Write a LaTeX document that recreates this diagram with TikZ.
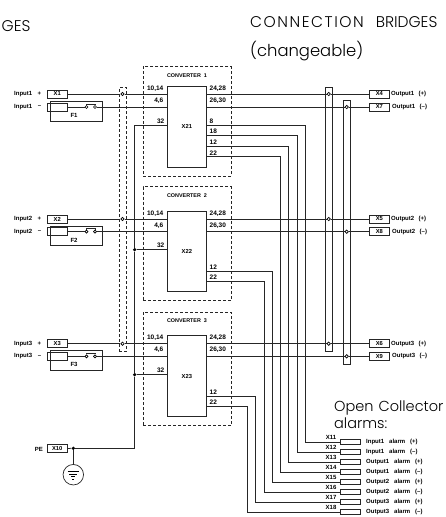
\documentclass[tikz,border=0pt]{standalone}
\usepackage{fontspec}
\setmainfont{Liberation Sans}
\newfontfamily\bigf{Poppins Light}
\newfontfamily\bigs[LetterSpace=10]{Poppins Light}
\begin{document}
\begin{tikzpicture}[x=1pt,y=-1pt,
  wire/.style={line width=0.75pt,draw=black!85},
  thinbox/.style={draw=black!85,line width=0.75pt,fill=none,inner sep=0pt},
  term/.style={thinbox,minimum width=20.5pt,minimum height=8pt,font=\fontsize{5.8}{6}\selectfont\bfseries},
  alarmbox/.style={thinbox,minimum width=19.5pt,minimum height=5pt},
  conv/.style={draw=black!85,line width=0.75pt,dashed,dash pattern=on 3pt off 2pt,inner sep=0pt},
  block/.style={thinbox,minimum width=39.7pt,font=\fontsize{5.8}{6}\selectfont\bfseries},
  tiny/.style={inner sep=0pt,font=\fontsize{6}{6}\selectfont\bfseries},
  pin/.style={inner sep=0pt,font=\fontsize{6.5}{6}\selectfont\bfseries},
  jopen/.style={circle,draw=black,line width=0.7pt,minimum size=3.4pt,inner sep=0pt},
  jfill/.style={circle,fill=black,minimum size=3.6pt,inner sep=0pt},
  big/.style={inner sep=0pt,anchor=base west,font=\fontsize{15.5}{17}\bigf},
  big2/.style={inner sep=0pt,anchor=base west,font=\fontsize{14.5}{17}\bigf}]
\useasboundingbox (0,0) rectangle (446,517);
% titles
\node[big] (t1) at (1.5,31.7) {GES};
\node[big] (t2) at (250,27.5) {{\bigs CONNECTION}\hspace{12pt}BRIDGES};
\node[big,font=\fontsize{16.4}{17}\bigf] (t3) at (250,56) {(changeable)};
\node[big2] (t4) at (334,411.7) {Open\hspace{5pt}Collector};
\node[big2] (t5) at (334,428) {alarms:};
% bridges
\node[thinbox,conv,minimum width=7.7pt,minimum height=263.3pt] (bl) at (122.9,219.3) {};
\node[thinbox,minimum width=7.4pt,minimum height=264pt] (br1) at (329,219.3) {};
\node[thinbox,minimum width=7.3pt,minimum height=264pt] (br2) at (346.7,232.3) {};
% converters
\foreach \c/\n/\top/\bot/\title/\btop/\bbot/\yp/\ym/\ya/\inp/\outp/\outm/\fuse in {
 1/X21/66.7/176/{CONVERTER\ \ 1}/86.3/167.3/94/107/125.3/X1/X4/X7/F1,
 2/X22/186.7/300.7/{CONVERTER\ \ 2}/211/291.7/219/231.7/249.7/X2/X5/X8/F2,
 3/X23/312/425.7/{CONVERTER\ \ 3}/335.7/416.7/343.7/356.3/374.7/X3/X6/X9/F3}{
  \pgfmathsetmacro\bh{\bbot-\btop}
  \pgfmathsetmacro\bm{(\bbot+\btop)/2}
  \pgfmathsetmacro\cm{(\top+\bot)/2}
  \pgfmathsetmacro\ch{\bot-\top}
  \node[conv,minimum width=88pt,minimum height=\ch pt] (conv\c) at (187,\cm) {};
  \node[tiny,font=\fontsize{5.4}{6}\selectfont\bfseries] (ctitle\c) at (187,\top+8.5) {\title};
  \node[block,minimum height=\bh pt] (\n) at (186.85,\bm) {\n};
  % terminals
  \node[term] (\inp) at (57.2,\yp) {\inp};
  \node[thinbox,minimum width=20.5pt,minimum height=8pt] (m\inp) at (57.2,\ym) {};
  \node[term] (\outp) at (379.3,\yp) {\outp};
  \node[term] (\outm) at (379.3,\ym) {\outm};
  % fuse
  \node[thinbox,minimum width=52.2pt,minimum height=19.7pt,anchor=north west] (\fuse) at (49.5,\ym-6) {};
  \node[tiny] (ft\c) at (74,\ym+8.3) {\fuse};
  \node[jopen,minimum size=3pt] (fa\c) at (86.5,\ym) {};
  \node[jopen,minimum size=3pt] (fb\c) at (95,\ym) {};
  \draw[wire] (fa\c.north) -- ++(0,-1) -- ++(8.5,0) -- (fb\c.north);
  % junctions
  \node[jopen] (jl\c) at (122.5,\yp) {};
  \node[jopen] (jr\c) at (328.7,\yp) {};
  \node[jopen] (js\c) at (346.7,\ym) {};
  % wires
  \draw[wire] (\inp.east) -- (jl\c.west);
  \draw[wire] (jl\c.east) -- (\n.west |- jl\c);
  \draw[wire] (m\inp.east) -- (fa\c.west);
  \draw[wire] (fb\c.east) -- (\n.west |- fb\c);
  \draw[wire] (\n.east |- jr\c) -- (jr\c.west);
  \draw[wire] (jr\c.east) -- (\outp.west);
  \draw[wire] (\n.east |- js\c) -- (js\c.west);
  \draw[wire] (js\c.east) -- (\outm.west);
  % pin labels
  \node[pin,anchor=east] (l1\c) at (163.5,\yp-5.7) {10,14};
  \node[pin,anchor=east] (l2\c) at (163.5,\ym-6.3) {4,6};
  \node[pin,anchor=east] (l3\c) at (164.5,\ya-4.3) {32};
  \node[pin,anchor=west] (l4\c) at (209.5,\yp-5.7) {24,28};
  \node[pin,anchor=west] (l5\c) at (209.5,\ym-6.3) {26,30};
  % side text
  \node[tiny,anchor=west] (in\c) at (14,\yp) {Input\c};
  \node[tiny,anchor=west] (pl\c) at (37.5,\yp) {+};
  \node[tiny,anchor=west] (im\c) at (14,\ym) {Input\c};
  \node[tiny,anchor=west] (mi\c) at (37.7,\ym) {--};
  \node[tiny,anchor=west] (op\c) at (391,\yp) {Output\c\hspace{4.5pt}(+)};
  \node[tiny,anchor=west] (om\c) at (392,\ym) {Output\c\hspace{4.5pt}(--)};
}
% protective earth bus
\node[term] (X10) at (57.2,448.5) {X10};
\node[tiny,anchor=east] (pe) at (43,449.5) {PE};
\node[jfill] (jpe) at (73.3,448.3) {};
\node[jfill] (j2) at (134.7,249.7) {};
\node[jfill] (j3) at (134.7,374.7) {};
\coordinate (bustop) at (134.7,125.3);
\coordinate (busbot) at (134.7,448.3);
\draw[wire] (X21.west |- bustop) -- (bustop) -- (j2.north);
\draw[wire] (j2.south) -- (j3.north);
\draw[wire] (j3.south) -- (busbot) -- (jpe.east);
\draw[wire] (X10.east) -- (jpe.west);
\draw[wire] (j2.east) -- (X22.west |- j2);
\draw[wire] (j3.east) -- (X23.west |- j3);
\node[circle,draw=black!85,line width=0.7pt,minimum size=20.5pt,inner sep=0pt] (gnd) at (73.3,474.7) {};
\draw[wire] (jpe.south) -- (gnd.north);
\draw[line width=0.6pt] (67.7,471.3) -- (78.7,471.3) (69.3,474) -- (76.7,474) (71,476.7) -- (75.3,476.7) (72.3,479.3) -- (74.3,479.3);
% alarms
\foreach \k/\xv/\yv/\name/\lbl/\ys in {
 X11/305/442.3/X21/{Input1\hspace{5pt}alarm\hspace{5pt}(+)}/125.3,
 X12/297.3/452.3/X21/{Input1\hspace{5pt}alarm\hspace{5pt}(--)}/135,
 X13/288.7/462.3/X21/{Output1\hspace{5pt}alarm\hspace{5pt}(+)}/146,
 X14/280.7/472.3/X21/{Output1\hspace{5pt}alarm\hspace{5pt}(--)}/156.3,
 X15/272.3/482.3/X22/{Output2\hspace{5pt}alarm\hspace{5pt}(+)}/271,
 X16/264/492.3/X22/{Output2\hspace{5pt}alarm\hspace{5pt}(--)}/281,
 X17/255.7/502.3/X23/{Output3\hspace{5pt}alarm\hspace{5pt}(+)}/396.3,
 X18/247.3/512.3/X23/{Output3\hspace{5pt}alarm\hspace{5pt}(--)}/406}{
  \node[alarmbox] (\k) at (350.2,\yv) {};
  \node[pin,font=\fontsize{6}{6}\selectfont\bfseries] (t\k) at (331,\yv-4.6) {\k};
  \node[tiny,anchor=west] (a\k) at (366,\yv) {\lbl};
  \coordinate (c1\k) at (\xv,\ys);
  \coordinate (c2\k) at (\xv,\yv);
  \draw[wire] (\name.east |- c1\k) -- (c1\k) -- (c2\k) -- (\k.west);
}
% output pin labels
\node[pin,anchor=west] (p8) at (209.5,121) {8};
\node[pin,anchor=west] (p18) at (209.5,131) {18};
\node[pin,anchor=west] (p12) at (209.5,142.7) {12};
\node[pin,anchor=west] (p22) at (209.5,153) {22};
\node[pin,anchor=west] (q12) at (209.5,267.5) {12};
\node[pin,anchor=west] (q22) at (209.5,277.5) {22};
\node[pin,anchor=west] (r12) at (209.5,392.5) {12};
\node[pin,anchor=west] (r22) at (209.5,402.5) {22};
\end{tikzpicture}
\end{document}
